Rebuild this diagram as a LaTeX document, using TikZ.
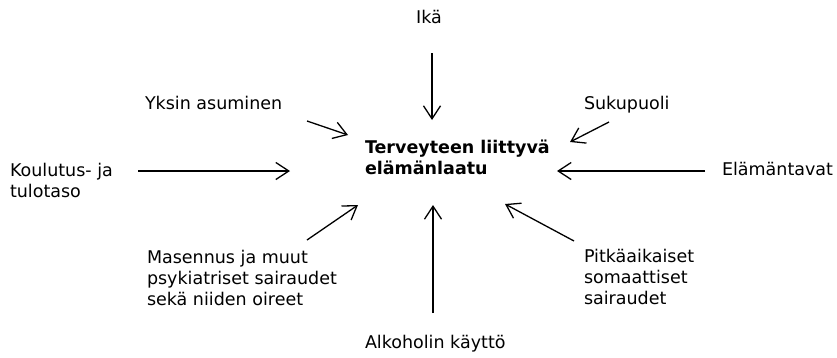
\documentclass[tikz,border=0pt]{standalone}
\usepackage{fontspec}
\setmainfont{DejaVu Sans}
\usetikzlibrary{arrows.meta}
\begin{document}
\begin{tikzpicture}[x=1pt,y=-1pt,
  lbl/.style={inner sep=0pt, outer sep=0pt, align=left, anchor=base west,
    font=\fontsize{17.5}{20.8}\selectfont},
  conn/.style={line width=1.3pt, -{Straight Barb[length=13pt,width=17pt,line width=1.3pt]}}]
\useasboundingbox (0,0) rectangle (837,357);
% labels (multi-line nodes are placed by the baseline of their last line)
\node[lbl, anchor=base] (ika) at (429,23) {Ikä};
\node[lbl] (yksin) at (145,109) {Yksin asuminen};
\node[lbl] (koul) at (10,197) {Koulutus- ja\\tulotaso};
\node[lbl, font=\fontsize{17.5}{20.8}\selectfont\bfseries] (center) at (365,174) {Terveyteen liittyvä\\elämänlaatu};
\node[lbl] (suku) at (584,109) {Sukupuoli};
\node[lbl] (elam) at (722,175) {Elämäntavat};
\node[lbl] (mas) at (147,305) {Masennus ja muut\\psykiatriset sairaudet\\sekä niiden oireet};
\node[lbl] (pitk) at (584,304) {Pitkäaikaiset\\somaattiset\\sairaudet};
\node[lbl] (alk) at (365,348) {Alkoholin käyttö};
% arrow end points
\coordinate (ikaT) at (432,53);  \coordinate (ikaH) at (432,120);
\coordinate (yksT) at (307,121); \coordinate (yksH) at (348,135);
\coordinate (kouT) at (138,171); \coordinate (kouH) at (290,171);
\coordinate (masT) at (307,240); \coordinate (masH) at (358,205);
\coordinate (alkT) at (433,313); \coordinate (alkH) at (433,205);
\coordinate (pitT) at (574,241); \coordinate (pitH) at (505,204);
\coordinate (elaT) at (705,171); \coordinate (elaH) at (557,171);
\coordinate (sukT) at (609,122); \coordinate (sukH) at (570,142);
% arrows
\draw[conn] (ikaT) -- (ikaH);
\draw[conn] (yksT) -- (yksH);
\draw[conn] (kouT) -- (kouH);
\draw[conn] (masT) -- (masH);
\draw[conn] (alkT) -- (alkH);
\draw[conn] (pitT) -- (pitH);
\draw[conn] (elaT) -- (elaH);
\draw[conn] (sukT) -- (sukH);
\end{tikzpicture}
\end{document}
